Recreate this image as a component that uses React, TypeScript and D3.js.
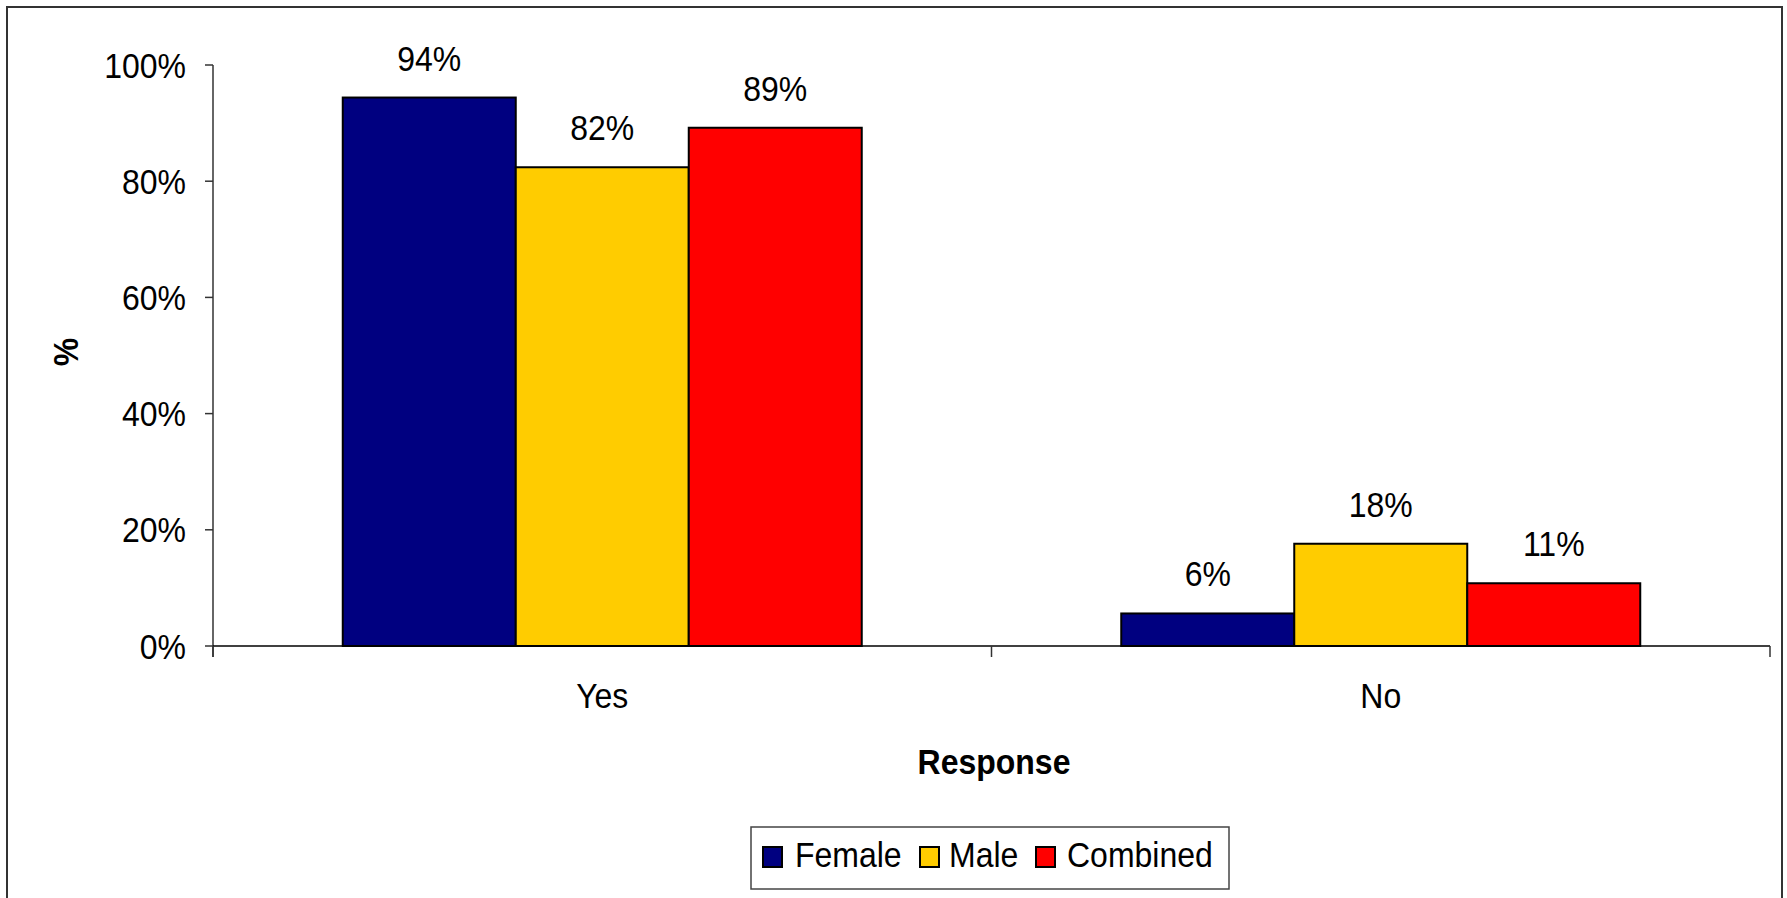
import React from "react";
import * as d3 from "d3";

const categories = ["Yes", "No"];
const seriesNames = ["Female", "Male", "Combined"];
const seriesColors = ["#000080", "#FFCC00", "#FF0000"];
const femaleValues = [94.4, 5.6];
const maleValues = [82.4, 17.6];
const combinedValues = [89.2, 10.8];
const yTicks = [0, 20, 40, 60, 80, 100];

const W = 1787;
const H = 898;
const FONT = "'Liberation Sans', Arial, sans-serif";
const SY = 1.1;

function T(props: {
  x: number;
  y: number;
  anchor?: string;
  dy?: string;
  bold?: boolean;
  rotate?: number;
  children: React.ReactNode;
}) {
  const { x, y, anchor = "start", dy, bold, rotate = 0, children } = props;
  return (
    <text
      transform={`translate(${x},${y}) rotate(${rotate}) scale(1,${SY})`}
      dy={dy}
      textAnchor={anchor}
      fontSize={32}
      fontWeight={bold ? "bold" : "normal"}
      fill="#000"
    >
      {children}
    </text>
  );
}

export default function App() {
  const values = [femaleValues, maleValues, combinedValues];
  const left = 213;
  const right = 1770;
  const top = 65;
  const bottom = 646;

  const y = d3.scaleLinear().domain([0, 100]).range([bottom, top]);
  const x0 = d3.scaleBand<string>().domain(categories).range([left, right]).paddingInner(0).paddingOuter(0);
  const x1 = d3
    .scaleBand<string>()
    .domain(seriesNames)
    .range([0, x0.bandwidth()])
    .paddingInner(0)
    .paddingOuter(0.75);

  const boundaries = [left, ...categories.map((c) => (x0(c) as number) + x0.bandwidth())];

  const legendItems = [
    { name: "Female", sx: 763, tx: 795 },
    { name: "Male", sx: 920, tx: 949 },
    { name: "Combined", sx: 1036, tx: 1067 },
  ];

  return (
    <svg
      width={W}
      height={H}
      style={{ position: "absolute", left: 0, top: 0, background: "#fff" }}
      fontFamily={FONT}
    >
      <rect x={0} y={0} width={W} height={H} fill="#fff" />
      <rect x={7} y={7} width={1775} height={H + 10} fill="none" stroke="#333" strokeWidth={2} />

      {/* Bars */}
      {categories.map((c, ci) =>
        seriesNames.map((s, si) => {
          const v = values[si][ci];
          const bx = (x0(c) as number) + (x1(s) as number);
          const bw = x1.bandwidth();
          return (
            <g key={c + s}>
              <rect
                x={bx}
                y={y(v)}
                width={bw}
                height={y(0) - y(v)}
                fill={seriesColors[si]}
                stroke="#000"
                strokeWidth={2}
              />
              <T x={bx + bw / 2} y={y(v) - 27} anchor="middle">
                {Math.round(v)}%
              </T>
            </g>
          );
        })
      )}

      {/* Y axis */}
      <line x1={left} x2={left} y1={top} y2={bottom + 11} stroke="#333" strokeWidth={1.5} />
      {yTicks.map((t) => (
        <g key={t}>
          <line x1={left - 8} x2={left} y1={y(t)} y2={y(t)} stroke="#333" strokeWidth={1.5} />
          <T x={186} y={y(t)} dy="0.36em" anchor="end">
            {t}%
          </T>
        </g>
      ))}

      {/* X axis */}
      <line x1={left} x2={right} y1={bottom} y2={bottom} stroke="#000" strokeWidth={1.5} />
      {boundaries.map((bx, i) => (
        <line key={i} x1={bx} x2={bx} y1={bottom} y2={bottom + 11} stroke="#333" strokeWidth={1.5} />
      ))}
      {categories.map((c) => (
        <T key={c} x={(x0(c) as number) + x0.bandwidth() / 2} y={695} dy="0.36em" anchor="middle">
          {c}
        </T>
      ))}

      {/* Axis titles */}
      <T x={994} y={761} dy="0.36em" anchor="middle" bold>
        Response
      </T>
      <T x={65} y={352} dy="0.36em" anchor="middle" bold rotate={-90}>
        %
      </T>

      {/* Legend */}
      <rect x={751} y={827} width={478} height={62} fill="#fff" stroke="#444" strokeWidth={1.5} />
      {legendItems.map((it, i) => (
        <g key={it.name}>
          <rect x={it.sx} y={847} width={19} height={20} fill={seriesColors[i]} stroke="#000" strokeWidth={2} />
          <T x={it.tx} y={867}>
            {seriesNames[i]}
          </T>
        </g>
      ))}
    </svg>
  );
}
